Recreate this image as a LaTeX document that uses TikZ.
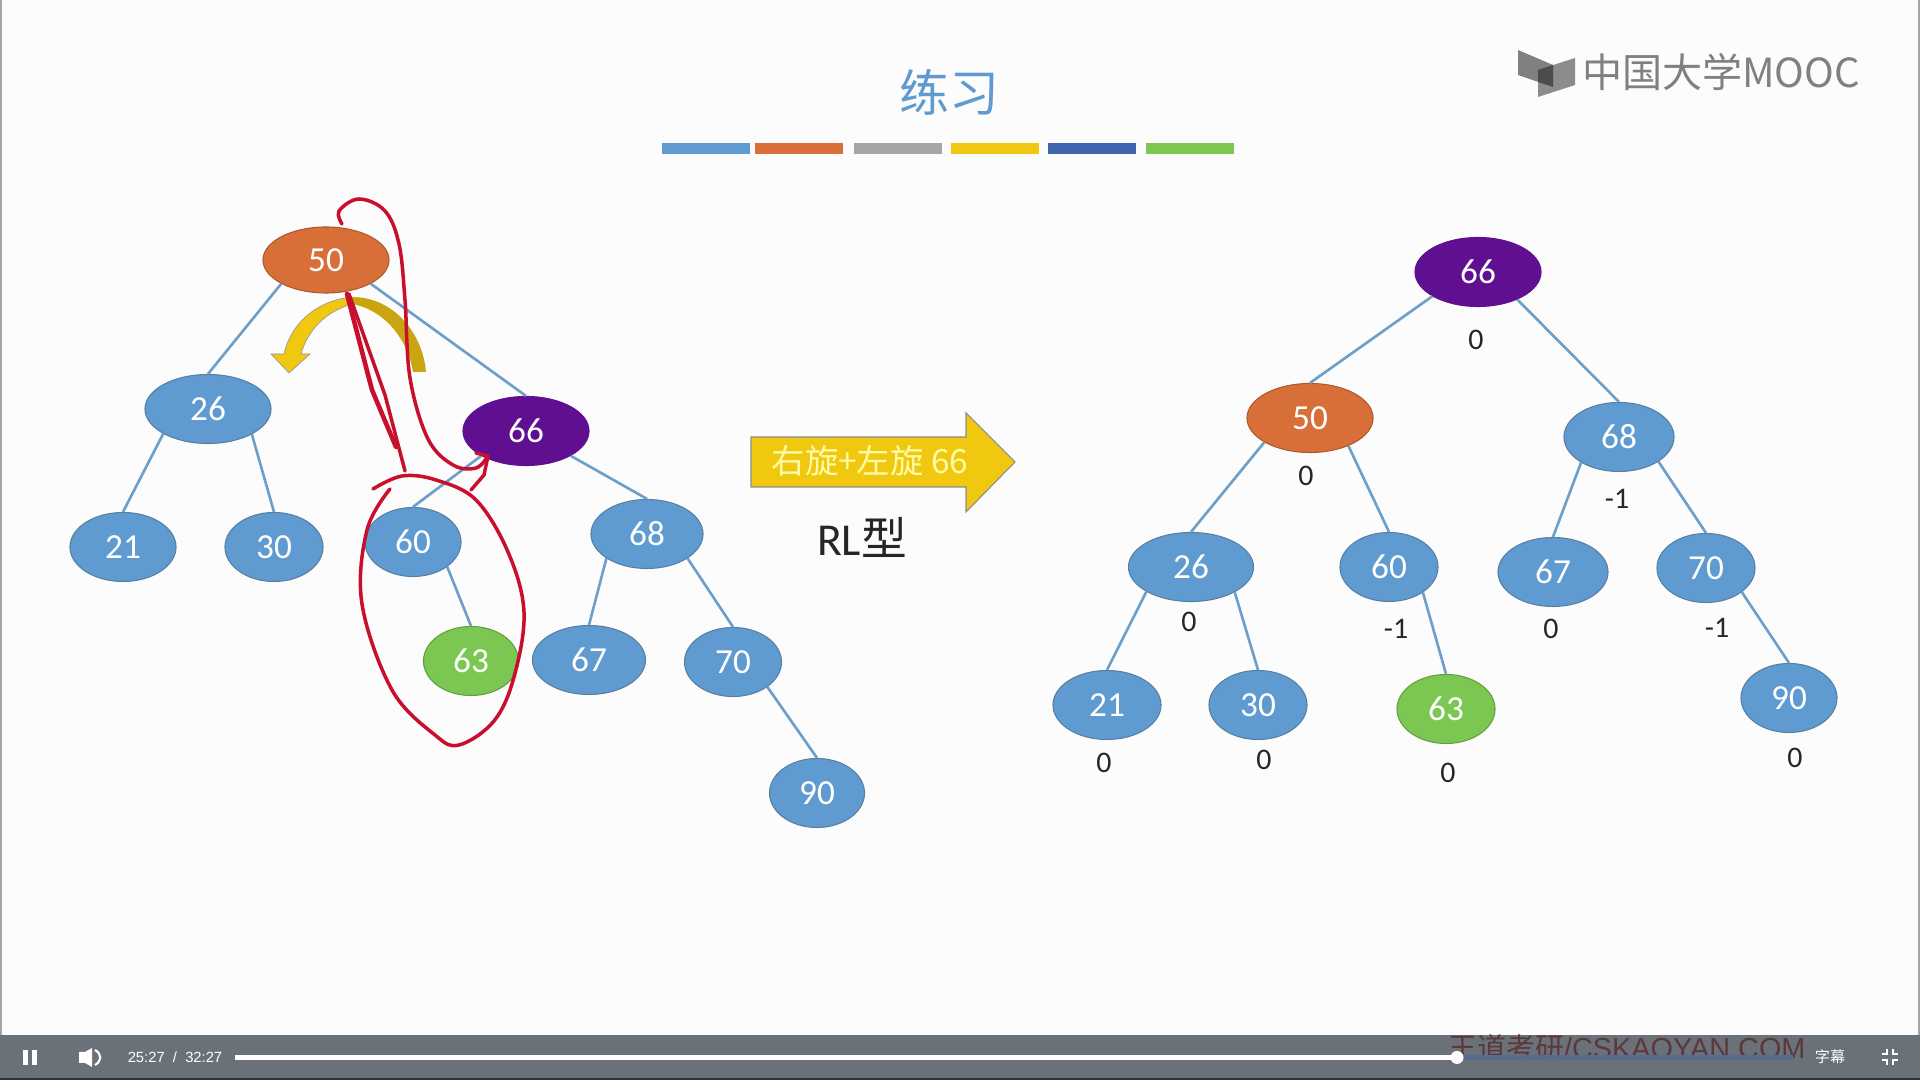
\documentclass[tikz,border=0pt]{standalone}
\usepackage{fontspec}
\setmainfont{Carlito}
\newfontfamily\cjk{Noto Sans CJK SC}
\newfontfamily\uifont{Liberation Sans}
\usetikzlibrary{shapes.geometric, arrows.meta, positioning, calc}
\definecolor{nodeblue}{HTML}{5F9BD0}
\definecolor{nodeorange}{HTML}{D96F38}
\definecolor{nodepurple}{HTML}{5F0F90}
\definecolor{nodegreen}{HTML}{7BC751}
\definecolor{edgeblue}{HTML}{6C9FC9}
\definecolor{inkred}{HTML}{C8102E}
\definecolor{gold}{HTML}{EFC80F}
\definecolor{darkgold}{HTML}{C9A512}
\definecolor{playerbar}{HTML}{6B7178}
\definecolor{barblue}{HTML}{3F65AE}

\begin{document}
\begin{tikzpicture}[
        x=0.01cm, y=-0.01cm,
        tree/.style={ellipse, draw=edgeblue!80!black, line width=0.3pt, fill=nodeblue, text=white, font=\fontsize{10}{12}\selectfont, inner sep=0pt, minimum width=1.26cm, minimum height=0.69cm},
        root/.style={tree, fill=nodepurple, draw=nodepurple},
        old/.style={tree, fill=nodeorange, draw=nodeorange!80!black},
        added/.style={tree, fill=nodegreen, draw=nodegreen!80!black},
        link/.style={draw=edgeblue, line width=0.75pt},
        balance/.style={font=\fontsize{8.5}{10}\selectfont, text=black!85, inner sep=0pt},
        bar/.style={minimum width=0.87cm, minimum height=0.11cm, inner sep=0pt},
        ink/.style={draw=inkred, line width=1pt, line cap=round, line join=round},
        player/.style={text=white, font=\uifont\fontsize{4.2}{6}\selectfont, inner sep=0pt}
    ]

    % Background
    \useasboundingbox (0,0) rectangle (1920,1080);
    \fill [black!1] (0,0) rectangle (1920,1080);
    \fill [black!35] (0,0) rectangle (2,1035);
    \fill [black!35] (1918,0) rectangle (1920,1035);

    % Title and bars
    \node (title) [text=nodeblue, font=\cjk\fontsize{14.2}{16}\selectfont] at (949,92) {练习};
    \node (bar1) [bar, fill=nodeblue] at (706,149) {};
    \node (bar2) [bar, fill=nodeorange] at (799,149) {};
    \node (bar3) [bar, fill=black!35] at (898,149) {};
    \node (bar4) [bar, fill=gold] at (995,149) {};
    \node (bar5) [bar, fill=barblue] at (1092,149) {};
    \node (bar6) [bar, fill=nodegreen] at (1190,149) {};

    % Logo
    \fill [black!50] (1518,50) -- (1553,65) -- (1553,87) -- (1518,75) -- cycle;
    \fill [black!45] (1538,70) -- (1575,58) -- (1575,85) -- (1538,97) -- cycle;
    \fill [black!70] (1538,70) -- (1553,65) -- (1553,87) -- (1538,82) -- cycle;
    \node (logo) [text=black!50, font=\cjk\fontsize{11.4}{13}\selectfont, inner sep=0pt] at (1721,72) {中国大学MOOC};

    % Left tree
    \node (a50) [old, minimum height=0.66cm] at (326,260) {50};
    \node (a26) [tree] at (208,409) {26};
    \node (a66) [root] at (526,431) {66};
    \node (a21) [tree, minimum width=1.06cm] at (123,547) {21};
    \node (a30) [tree, minimum width=0.98cm] at (274,547) {30};
    \node (a60) [tree, minimum width=0.96cm] at (413,542) {60};
    \node (a68) [tree, minimum width=1.12cm] at (647,534) {68};
    \node (a63) [added, minimum width=0.95cm] at (471,661) {63};
    \node (a67) [tree, minimum width=1.13cm] at (589,660) {67};
    \node (a70) [tree, minimum width=0.97cm] at (733,662) {70};
    \node (a90) [tree, minimum width=0.95cm] at (817,793) {90};

    \draw [link] (a50.-152) -- (a26.north);
    \draw [link] (a50.-28) -- (a66.north);
    \draw [link] (a26.-151) -- (a21.north);
    \draw [link] (a26.-30) -- (a30.north);
    \draw [link] (a66.-151) -- (a60.north);
    \draw [link] (a66.-29) -- (a68.north);
    \draw [link] (a60.-36) -- (a63.north);
    \draw [link] (a68.-149) -- (a67.north);
    \draw [link] (a68.-31) -- (a70.north);
    \draw [link] (a70.-36) -- (a90.north);

    % Rotation arrow
    \fill [darkgold] (352,297) .. controls (395,297) and (423,335) .. (426,372) -- (413,372) .. controls (408,340) and (385,310) .. (352,304) -- cycle;
    \fill [gold, draw=black!40, line width=0.2pt] (352,297) .. controls (320,300) and (292,320) .. (284,354) -- (271,354) -- (289,373) -- (310,354) -- (301,354) .. controls (308,330) and (325,312) .. (352,304) -- cycle;

    % Pen strokes
    \draw [ink] plot [smooth, tension=0.6] coordinates {(373,489) (402,476) (436,480) (476,500) (508,552) (524,612) (514,677) (494,721) (459,745) (435,735) (392,690) (362,604) (367,530) (390,489)};
    \draw [ink, line width=1.3pt] (347,294) -- (372,390) -- (396,447);
    \draw [ink] (349,294) -- (385,395) -- (405,471);
    \draw [ink] plot [smooth, tension=0.6] coordinates {(342,224) (339,211) (359,199) (385,211) (399,244) (405,300) (410,378) (428,439) (453,465) (476,468) (488,456)};
    \draw [ink] (476,453) -- (488,456) -- (484,475) -- (471,490);

    % Main arrow
    \draw [fill=gold, draw=black!45, line width=0.3pt] (751,437) -- (966,437) -- (966,413) -- (1015,462) -- (966,512) -- (966,487) -- (751,487) -- cycle;
    \node (rotate) [text=yellow!35, font=\cjk\fontsize{9.5}{11}\selectfont, inner sep=0pt] at (870,461) {右旋+左旋 66};
    \node (kind) [text=black!85, font=\fontsize{13}{15}\selectfont, inner sep=0pt] at (862,537) {RL{\cjk 型}};

    % Right tree
    \node (b66) [root] at (1478,272) {66};
    \node (b50) [old] at (1310,418) {50};
    \node (b68) [tree, minimum width=1.10cm] at (1619,437) {68};
    \node (b26) [tree, minimum width=1.25cm] at (1191,567) {26};
    \node (b60) [tree, minimum width=0.98cm] at (1389,567) {60};
    \node (b67) [tree, minimum width=1.10cm] at (1553,572) {67};
    \node (b70) [tree, minimum width=0.98cm] at (1706,568) {70};
    \node (b21) [tree, minimum width=1.08cm] at (1107,705) {21};
    \node (b30) [tree, minimum width=0.98cm] at (1258,705) {30};
    \node (b63) [added, minimum width=0.98cm] at (1446,709) {63};
    \node (b90) [tree, minimum width=0.96cm] at (1789,698) {90};

    \draw [link] (b66.-152) -- (b50.north);
    \draw [link] (b66.-35) -- (b68.north);
    \draw [link] (b50.-152) -- (b26.north);
    \draw [link] (b50.-36) -- (b60.north);
    \draw [link] (b68.-146) -- (b67.north);
    \draw [link] (b68.-32) -- (b70.north);
    \draw [link] (b26.-151) -- (b21.north);
    \draw [link] (b26.-30) -- (b30.north);
    \draw [link] (b60.-37) -- (b63.north);
    \draw [link] (b70.-34) -- (b90.north);

    % Balance factors
    \node (f66) [balance] at (1476,340) {0};
    \node (f50) [balance] at (1306,476) {0};
    \node (f68) [balance] at (1617,499) {-1};
    \node (f26) [balance] at (1189,622) {0};
    \node (f60) [balance] at (1396,629) {-1};
    \node (f67) [balance] at (1551,629) {0};
    \node (f70) [balance] at (1717,628) {-1};
    \node (f21) [balance] at (1104,763) {0};
    \node (f30) [balance] at (1264,760) {0};
    \node (f63) [balance] at (1448,773) {0};
    \node (f90) [balance] at (1795,758) {0};

    % Player bar
    \fill [playerbar] (0,1035) rectangle (1920,1080);
    \fill [black!80] (0,1078) rectangle (1920,1080);
    \node (mark) [anchor=west, text=red!30!black, opacity=0.5, font=\uifont\fontsize{8.2}{10}\selectfont, inner sep=0pt] at (1448,1048) {{\cjk 王道考研}/CSKAOYAN.COM};
    \fill [white] (235,1055) rectangle (1457,1060);
    \fill [barblue!45!playerbar] (1457,1055) rectangle (1793,1060);
    \fill [white] (1457,1057.5) circle (6.5);
    \fill [white] (23,1050) rectangle (28,1065);
    \fill [white] (32,1050) rectangle (37,1065);
    \fill [white] (79,1052) -- (85,1052) -- (92,1048) -- (92,1067) -- (85,1063) -- (79,1063) -- cycle;
    \draw [white, line width=0.6pt] (95,1050) .. controls (102,1054) and (102,1061) .. (95,1065);
    \node (clock) [player] at (175,1057) {25:27\ \ /\ \ 32:27};
    \node (caption) [player, font=\cjk\fontsize{4.3}{6}\selectfont] at (1830,1057) {字幕};
    \draw [white, line width=0.8pt] (1887,1049) -- (1887,1054) -- (1882,1054) (1893,1049) -- (1893,1054) -- (1898,1054) (1887,1065) -- (1887,1060) -- (1882,1060) (1893,1065) -- (1893,1060) -- (1898,1060);

\end{tikzpicture}
\end{document}
